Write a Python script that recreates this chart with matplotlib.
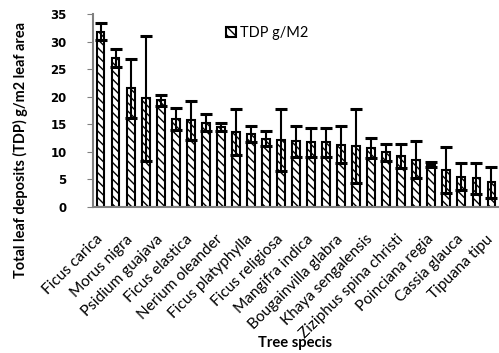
import matplotlib
matplotlib.use("Agg")
from matplotlib import pyplot as plt
from matplotlib.font_manager import FontProperties
from matplotlib.transforms import ScaledTranslation
import numpy as np

# tree species labelled on the axis (every other bar carries a label)
species_labels = ["Ficus carica", "Morus nigra", "Psidium guajava", "Ficus elastica",
                  "Nerium oleander", "Ficus platyphylla", "Ficus religiosa", "Mangifra indica",
                  "Bougainvilla glabra", "Khaya sengalensis", "Ziziphus spina christi",
                  "Poinciana regia", "Cassia glauca", "Tipuana tipu"]

# total leaf deposits (TDP) g/m2, one value per bar
tdp = [31.8, 27.0, 21.5, 19.7, 19.4, 15.9, 15.7, 15.3, 14.5, 13.6,
       13.2, 12.4, 12.1, 11.9, 11.7, 11.7, 11.3, 11.0, 10.7, 9.9,
       9.3, 8.6, 7.7, 6.7, 5.5, 5.2, 4.5]
tdp_err = [1.5, 1.6, 5.3, 11.3, 1.0, 2.0, 3.5, 1.5, 0.7, 4.2,
           1.5, 1.4, 5.6, 2.8, 2.6, 2.6, 3.3, 6.7, 1.9, 1.5,
           2.2, 3.4, 0.4, 4.1, 2.5, 2.8, 2.8]

FAMILY = ['Lato', 'DejaVu Sans']
TICKSIZE = 8.5
plt.rcParams['font.family'] = FAMILY
plt.rcParams['hatch.linewidth'] = 1.0

fig = plt.figure(figsize=(4.99, 3.53), dpi=100)
renderer = fig.canvas.get_renderer()

def fit_size(text, target_px, weight='normal'):
    # font size that makes the text about target_px wide
    fp = FontProperties(family=FAMILY, weight=weight, size=10)
    w, h, d = renderer.get_text_width_height_descent(text, fp, ismath=False)
    return 10 * target_px / w

ax = fig.add_axes([0.1864, 0.4136, 0.8136, 0.5467])

x = np.arange(len(tdp))
ax.bar(x, tdp, width=0.52, color='white', edgecolor='black', hatch='\\\\\\\\',
       linewidth=1.5, label='TDP g/M2',
       yerr=tdp_err, capsize=4.2,
       error_kw=dict(ecolor='black', elinewidth=1.5, capthick=2.2))

ax.set_xlim(-0.5, len(tdp) - 0.5)
ax.set_ylim(0, 35)
ax.set_yticks(np.arange(0, 36, 5))
ax.tick_params(axis='y', labelsize=TICKSIZE, length=4, color='gray', pad=15)
for lab in ax.get_yticklabels():
    lab.set_fontweight('bold')
    lab.set_family('DejaVu Sans')

xsize = fit_size("Ziziphus spina christi", 141)
ax.set_xticks(x[::2])
ax.set_xticklabels(species_labels, rotation=45, ha='right', va='baseline',
                   rotation_mode='anchor', fontsize=xsize)
ax.tick_params(axis='x', length=0, pad=0)
shift = ScaledTranslation(2.5 / 100, -33 / 100, fig.dpi_scale_trans)
for lab in ax.get_xticklabels():
    lab.set_transform(lab.get_transform() + shift)

for s in ['top', 'right']:
    ax.spines[s].set_visible(False)
for s in ['left', 'bottom']:
    ax.spines[s].set_color('gray')
    ax.spines[s].set_linewidth(1.5)

ylab = "Total leaf deposits (TDP) g/m2 leaf area"
fig.text(20 / 499, 1 - 150 / 353, ylab, rotation=90, ha='center', va='center',
         fontsize=fit_size(ylab, 257, 'bold'), fontweight='bold')
fig.text(295 / 499, 1 - 343 / 353, "Tree specis", ha='center', va='center',
         fontsize=fit_size("Tree specis", 74, 'bold'), fontweight='bold')

ax.legend(loc='center left', bbox_to_anchor=(0.295, 0.9), frameon=False,
          fontsize=fit_size("TDP g/M2", 68),
          handlelength=0.7, handleheight=0.7, handletextpad=0.3)

plt.savefig("out.png", dpi=100)
